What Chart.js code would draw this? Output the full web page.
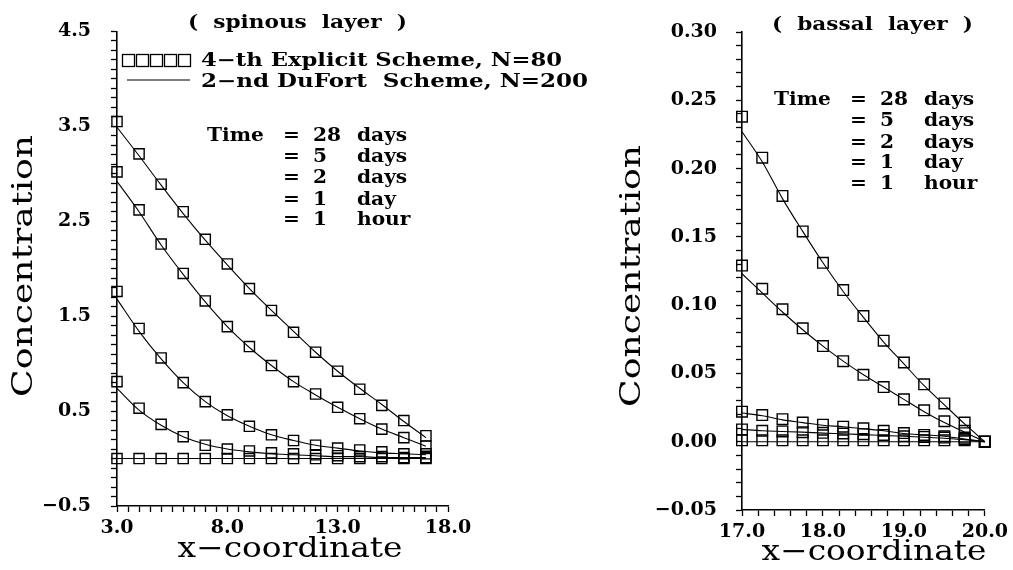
<!DOCTYPE html>
<html>
<head>
<meta charset="utf-8">
<script src="https://cdn.jsdelivr.net/npm/chart.js@4.4.0/dist/chart.umd.min.js"></script>
<style>
  body { margin: 0; background: #fff; }
  #spinous { position: absolute; left: 0; top: 0; }
  #bassal { position: absolute; left: 600px; top: 0; }
</style>
</head>
<body>
<canvas id="spinous" width="600" height="570"></canvas>
<canvas id="bassal" width="413" height="570"></canvas>
<script>
// spinous layer (left panel)
const spinX = [3, 4, 5, 6, 7, 8, 9, 10, 11, 12, 13, 14, 15, 16, 17];
// squares: 4-th Explicit Scheme, N=80
const spinExp28d = [3.55, 3.21, 2.89, 2.60, 2.31, 2.05, 1.79, 1.56, 1.33, 1.12, 0.92, 0.73, 0.56, 0.40, 0.24];
const spinExp5d  = [3.02, 2.62, 2.26, 1.95, 1.66, 1.39, 1.18, 0.98, 0.81, 0.68, 0.54, 0.42, 0.31, 0.22, 0.13];
const spinExp2d  = [1.76, 1.37, 1.06, 0.80, 0.60, 0.46, 0.34, 0.25, 0.19, 0.14, 0.11, 0.09, 0.07, 0.05, 0.05];
const spinExp1d  = [0.81, 0.53, 0.36, 0.23, 0.14, 0.10, 0.08, 0.06, 0.05, 0.04, 0.03, 0.02, 0.02, 0.01, 0.01];
const spinExp1h  = [0, 0, 0, 0, 0, 0, 0, 0, 0, 0, 0, 0, 0, 0, 0];
// lines: 2-nd DuFort Scheme, N=200
const spinDuf28d = [3.49, 3.19, 2.88, 2.58, 2.30, 2.04, 1.79, 1.56, 1.34, 1.12, 0.92, 0.74, 0.57, 0.39, 0.22];
const spinDuf5d  = [2.92, 2.60, 2.25, 1.94, 1.65, 1.39, 1.17, 0.98, 0.81, 0.67, 0.54, 0.42, 0.31, 0.22, 0.13];
const spinDuf2d  = [1.68, 1.34, 1.05, 0.80, 0.60, 0.45, 0.34, 0.25, 0.19, 0.14, 0.11, 0.08, 0.06, 0.05, 0.04];
const spinDuf1d  = [0.74, 0.51, 0.35, 0.23, 0.15, 0.10, 0.07, 0.05, 0.04, 0.03, 0.02, 0.02, 0.01, 0.01, 0.01];
const spinDuf1h  = [0, 0, 0, 0, 0, 0, 0, 0, 0, 0, 0, 0, 0, 0, 0];
const spinXTicks = [3, 8, 13, 18];
const spinYTicks = [-0.5, 0.5, 1.5, 2.5, 3.5, 4.5];

// bassal layer (right panel)
const basX = [17, 17.25, 17.5, 17.75, 18, 18.25, 18.5, 18.75, 19, 19.25, 19.5, 19.75, 20];
const basExp28d = [0.238, 0.208, 0.180, 0.154, 0.131, 0.111, 0.092, 0.074, 0.058, 0.042, 0.028, 0.014, 0];
const basExp5d  = [0.129, 0.112, 0.097, 0.083, 0.070, 0.059, 0.049, 0.040, 0.031, 0.023, 0.015, 0.008, 0];
const basExp2d  = [0.022, 0.0195, 0.0165, 0.014, 0.0125, 0.011, 0.0098, 0.008, 0.0063, 0.005, 0.004, 0.003, 0];
const basExp1d  = [0.009, 0.008, 0.0075, 0.007, 0.0065, 0.006, 0.0055, 0.005, 0.004, 0.0035, 0.003, 0.002, 0];
const basExp1h  = [0.001, 0.001, 0.001, 0.001, 0.001, 0.001, 0.001, 0.001, 0.001, 0.001, 0.001, 0.001, 0];
const basDuf28d = [0.227, 0.205, 0.178, 0.154, 0.131, 0.110, 0.091, 0.073, 0.057, 0.041, 0.027, 0.013, 0];
const basDuf5d  = [0.123, 0.109, 0.095, 0.082, 0.070, 0.059, 0.049, 0.040, 0.031, 0.022, 0.014, 0.007, 0];
const basDuf2d  = [0.021, 0.019, 0.016, 0.014, 0.012, 0.011, 0.0095, 0.008, 0.006, 0.005, 0.004, 0.002, 0];
const basDuf1d  = [0.009, 0.008, 0.0075, 0.007, 0.0063, 0.0058, 0.0052, 0.0046, 0.004, 0.0033, 0.0025, 0.0015, 0];
const basDuf1h  = [0, 0, 0, 0, 0, 0, 0, 0, 0, 0, 0, 0, 0];
const basXTicks = [17, 18, 19, 20];
const basYTicks = [-0.05, 0, 0.05, 0.10, 0.15, 0.20, 0.25, 0.30];

const timeRows = [['28', 'days'], ['5', 'days'], ['2', 'days'], ['1', 'day'], ['1', 'hour']];

const FONT = 'DejaVu Serif';
const STRETCH = 1.12; // the original typeface is wider than DejaVu

function pts(xs, ys) {
  return xs.map((x, i) => ({ x: x, y: ys[i] }));
}

function squares(xs, ys, r) {
  return {
    data: pts(xs, ys), showLine: false, clip: false,
    pointStyle: 'rect', pointRadius: r, pointHoverRadius: r,
    pointBorderColor: '#000', pointBackgroundColor: 'rgba(0,0,0,0)', pointBorderWidth: 1.4
  };
}

function curve(xs, ys) {
  return {
    data: pts(xs, ys), showLine: true, clip: false, pointRadius: 0,
    borderColor: '#000', borderWidth: 1.1, cubicInterpolationMode: 'monotone'
  };
}

// only the listed values get a label, the rest stay minor ticks
function labelIf(list, digits) {
  return function (v) {
    if (!list.some(t => Math.abs(t - v) < 1e-6)) return '';
    if (Math.abs(v) < 1e-9) v = 0;
    return v.toFixed(digits).replace('-', '\u2212');
  };
}

function axes(o) {
  const tickFont = { family: FONT, size: 19, weight: 'bold' };
  return {
    x: {
      type: 'linear', min: o.xmin, max: o.xmax,
      afterFit: s => { s.height = o.xh; },
      ticks: { stepSize: o.xstep, autoSkip: false, maxRotation: 0, padding: 5, color: '#000', font: tickFont, callback: labelIf(o.xt, 1) },
      grid: { drawOnChartArea: false, tickLength: 6, tickColor: '#000', tickWidth: 1.3 },
      border: { color: '#000', width: 1.6 }
    },
    y: {
      type: 'linear', min: o.ymin, max: o.ymax,
      afterFit: s => { s.width = o.yw; },
      ticks: { stepSize: o.ystep, autoSkip: false, padding: o.ypad, color: '#000', font: tickFont, callback: labelIf(o.yt, o.yd) },
      grid: { drawOnChartArea: false, tickLength: 6, tickColor: '#000', tickWidth: 1.3 },
      border: { color: '#000', width: 1.6 }
    }
  };
}

// left aligned word, widened a little
function word(ctx, s, x, y) {
  ctx.save();
  ctx.translate(x, y);
  ctx.scale(STRETCH, 1);
  ctx.textAlign = 'left';
  ctx.fillText(s, 0, 0);
  ctx.restore();
}

// text stretched to a given width, left aligned or centred
function fitted(ctx, s, x, y, width, angle, align) {
  const w = ctx.measureText(s).width;
  ctx.save();
  ctx.translate(x, y);
  ctx.rotate(angle || 0);
  ctx.scale(width / w, 1);
  ctx.textAlign = align || 'center';
  ctx.fillText(s, 0, 0);
  ctx.restore();
}

function timeBlock(ctx, x0, ys) {
  ctx.font = 'bold 18px ' + FONT;
  word(ctx, 'Time', x0, ys[0]);
  timeRows.forEach((r, i) => {
    word(ctx, '=', x0 + 76, ys[i]);
    word(ctx, r[0], x0 + 106, ys[i]);
    word(ctx, r[1], x0 + 150, ys[i]);
  });
}

function notes(draw) {
  return {
    id: 'notes',
    afterDraw(chart) {
      const ctx = chart.ctx;
      ctx.save();
      ctx.fillStyle = '#000';
      ctx.strokeStyle = '#000';
      ctx.textBaseline = 'middle';
      draw(ctx, chart);
      ctx.restore();
    }
  };
}

function datasets(xs, exp, duf, r) {
  const out = [];
  exp.forEach(s => out.push(squares(xs, s, r)));
  duf.forEach(s => out.push(curve(xs, s)));
  return out;
}

const common = {
  responsive: false,
  animation: false,
  events: [],
  plugins: { legend: { display: false }, tooltip: { enabled: false } }
};

new Chart(document.getElementById('spinous'), {
  type: 'line',
  data: {
    datasets: datasets(spinX,
      [spinExp28d, spinExp5d, spinExp2d, spinExp1d, spinExp1h],
      [spinDuf28d, spinDuf5d, spinDuf2d, spinDuf1d, spinDuf1h], 7.2)
  },
  options: Object.assign({}, common, {
    layout: { autoPadding: false, padding: { left: 0, top: 29, right: 152, bottom: 0 } },
    scales: axes({ xmin: 3, xmax: 18, xstep: 0.5, xt: spinXTicks, xh: 64,
                   ymin: -0.5, ymax: 4.5, ystep: 0.1, yt: spinYTicks, yd: 1, yw: 117, ypad: 20 })
  }),
  plugins: [notes(function (ctx) {
    ctx.font = 'bold 18px ' + FONT;
    fitted(ctx, '(  spinous  layer  )', 188, 23, 219, 0, 'left');

    // legend
    ctx.lineWidth = 1.3;
    for (let i = 0; i < 5; i++) ctx.strokeRect(122.5 + i * 14, 54.5, 12, 12);
    ctx.beginPath();
    ctx.lineWidth = 1.1;
    ctx.moveTo(127, 80);
    ctx.lineTo(190, 80);
    ctx.stroke();
    fitted(ctx, '4\u2212th Explicit Scheme, N=80', 201, 61, 361, 0, 'left');
    fitted(ctx, '2\u2212nd DuFort  Scheme, N=200', 201, 82, 387, 0, 'left');

    timeBlock(ctx, 207, [136, 157, 178, 200, 220]);

    ctx.font = '28px ' + FONT;
    fitted(ctx, 'Concentration', 25, 266, 262, -Math.PI / 2);
    fitted(ctx, 'x\u2212coordinate', 290, 550, 225, 0);
  })]
});

new Chart(document.getElementById('bassal'), {
  type: 'line',
  data: {
    datasets: datasets(basX,
      [basExp28d, basExp5d, basExp2d, basExp1d, basExp1h],
      [basDuf28d, basDuf5d, basDuf2d, basDuf1d, basDuf1h], 7.5)
  },
  options: Object.assign({}, common, {
    layout: { autoPadding: false, padding: { left: 0, top: 32, right: 23, bottom: 0 } },
    scales: axes({ xmin: 17, xmax: 20, xstep: 0.2, xt: basXTicks, xh: 60,
                   ymin: -0.05, ymax: 0.30, ystep: 0.01, yt: basYTicks, yd: 2, yw: 142, ypad: 19 })
  }),
  plugins: [notes(function (ctx) {
    ctx.font = 'bold 18px ' + FONT;
    fitted(ctx, '(  bassal  layer  )', 172, 25, 201, 0, 'left');

    timeBlock(ctx, 174, [100, 121, 143, 163, 184]);

    ctx.font = '28px ' + FONT;
    fitted(ctx, 'Concentration', 33, 276, 262, -Math.PI / 2);
    fitted(ctx, 'x\u2212coordinate', 274, 553, 225, 0);
  })]
});
</script>
</body>
</html>
